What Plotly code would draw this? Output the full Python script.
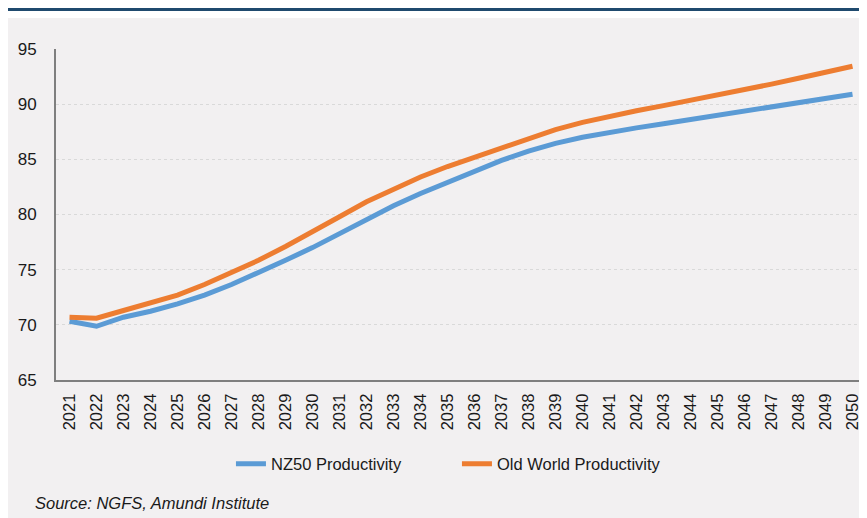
import plotly.graph_objects as go

years = [str(y) for y in range(2021, 2051)]

nz50_productivity = [70.33, 69.87, 70.69, 71.23, 71.9, 72.7, 73.65, 74.7, 75.85, 77.0,
                     78.3, 79.6, 80.8, 81.9, 82.9, 83.95, 84.9, 85.75, 86.45, 87.0,
                     87.45, 87.85, 88.22, 88.6, 89.0, 89.42, 89.83, 90.2, 90.55, 90.9]

old_world_productivity = [70.69, 70.6, 71.3, 72.05, 72.7, 73.65, 74.7, 75.85, 77.1, 78.4,
                          79.8, 81.15, 82.33, 83.4, 84.35, 85.2, 86.1, 86.95, 87.7, 88.35,
                          88.9, 89.4, 89.87, 90.33, 90.8, 91.3, 91.82, 92.35, 92.9, 93.44]

FONT = "Liberation Sans, Arial, sans-serif"
PANEL = "#F2F0F1"

fig = go.Figure()
fig.add_trace(go.Scatter(x=years, y=nz50_productivity, mode="lines",
                         name="NZ50 Productivity",
                         line=dict(color="#5B9BD5", width=5)))
fig.add_trace(go.Scatter(x=years, y=old_world_productivity, mode="lines",
                         name="Old World Productivity",
                         line=dict(color="#ED7D31", width=5)))

# grey panel and the dark rule above it
fig.add_shape(type="rect", xref="paper", yref="paper",
              x0=-0.0593, x1=1.01, y0=-0.42, y1=1.0937,
              fillcolor=PANEL, line_width=0, layer="below")
fig.add_shape(type="line", xref="paper", yref="paper",
              x0=-0.0593, x1=1.01, y0=1.1193, y1=1.1193,
              line=dict(color="#1F4A6E", width=3), layer="below")

fig.add_annotation(text="<i>Source: NGFS, Amundi Institute</i>",
                   xref="paper", yref="paper", x=-0.0284, y=-0.372,
                   xanchor="left", yanchor="middle", showarrow=False,
                   font=dict(family=FONT, size=16.5, color="#1a1a1a"))

# page body has an 8px margin, so the figure is sized to end at the window edge
fig.update_layout(
    width=859, height=510,
    margin=dict(l=48, r=1, t=41, b=138),
    paper_bgcolor="white",
    plot_bgcolor=PANEL,
    font=dict(family=FONT, size=17, color="#1a1a1a"),
    showlegend=True,
    legend=dict(orientation="h", x=0.216, y=-0.2538, xanchor="left", yanchor="middle",
                bgcolor="rgba(0,0,0,0)", font=dict(size=16.5),
                entrywidth=181, entrywidthmode="pixels"),
)
fig.update_xaxes(type="category", range=[-0.5, 29.5], tickangle=-90,
                 showgrid=False, showline=True, linecolor="#7F7F7F", linewidth=2,
                 ticks="", ticklabelstandoff=5, tickfont=dict(size=16.5))
fig.update_yaxes(range=[65, 95], dtick=5, showgrid=True, gridcolor="#D9D9D9",
                 griddash="dot", gridwidth=1, zeroline=False,
                 showline=True, linecolor="#7F7F7F", linewidth=2,
                 ticks="", ticklabelstandoff=14, tickfont=dict(size=17))

fig.write_html("out.html")
